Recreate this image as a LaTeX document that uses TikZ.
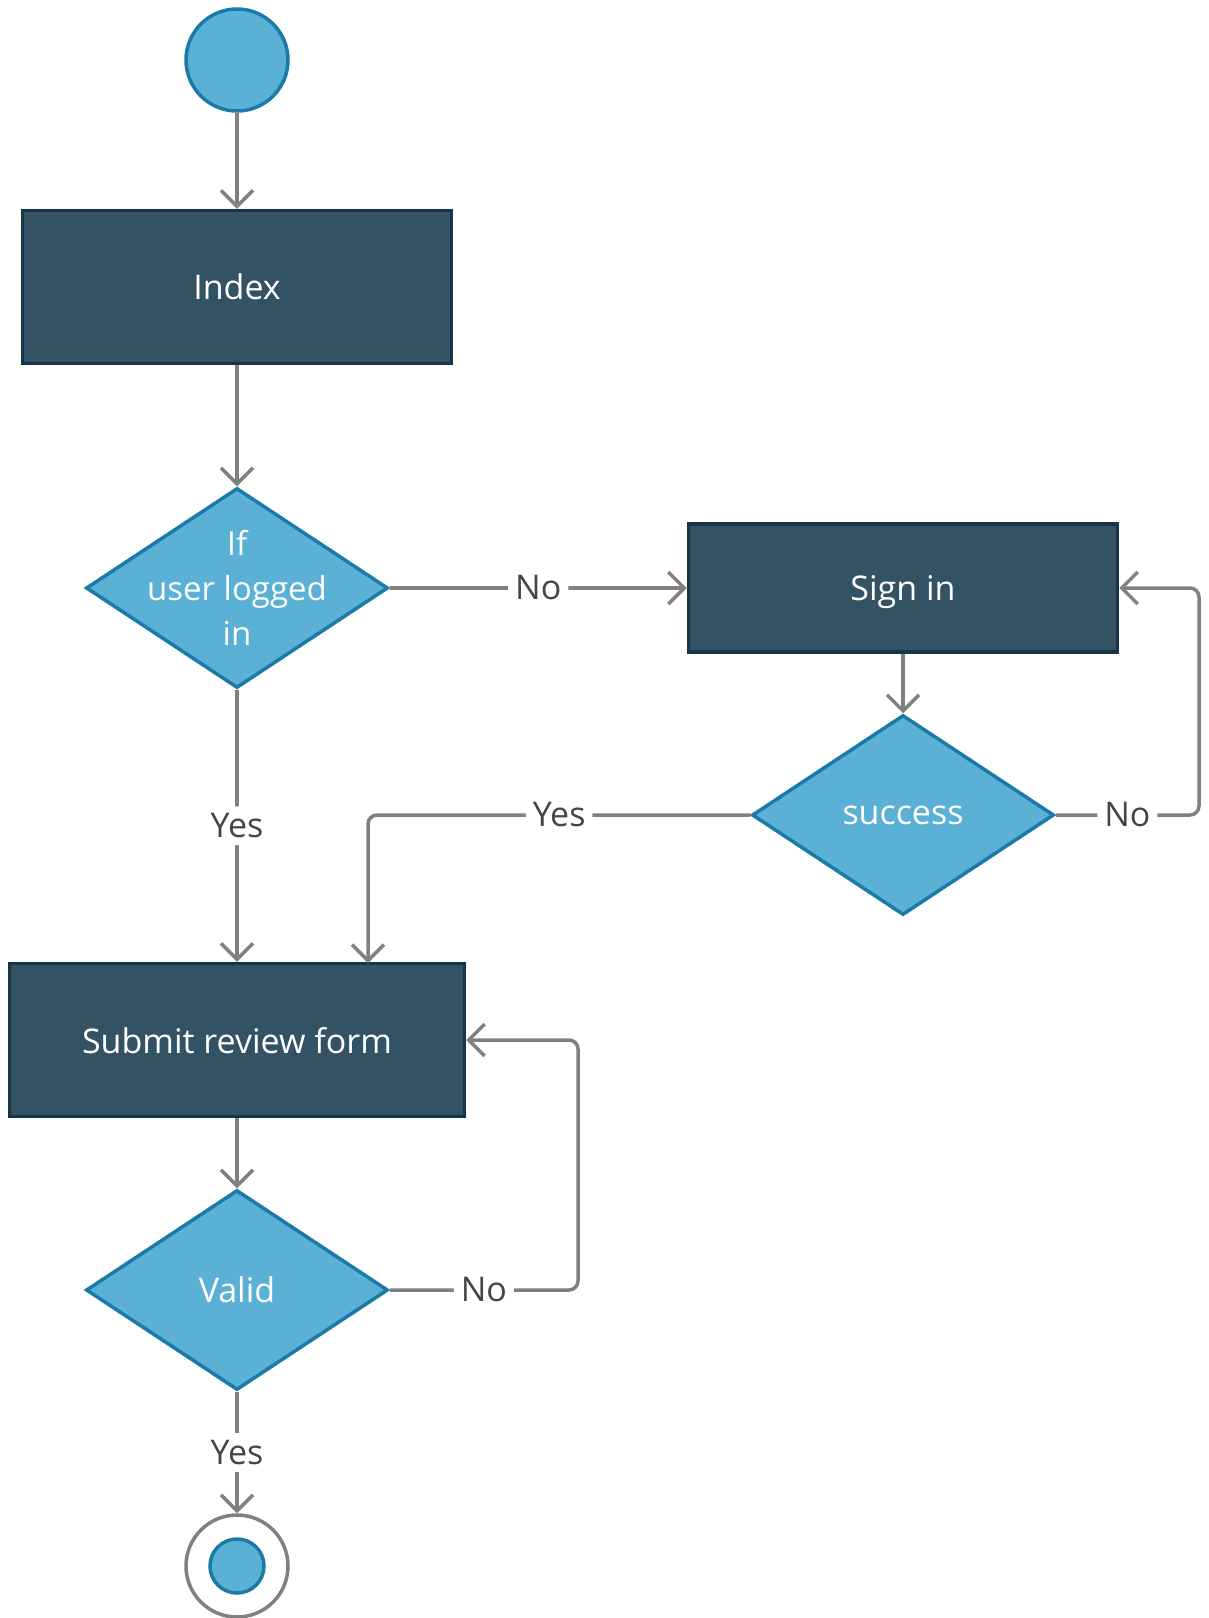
\documentclass[tikz,border=0pt]{standalone}
\usepackage{fontspec}
\setmainfont{Open Sans}
\usetikzlibrary{positioning,shapes.geometric,arrows.meta}
\definecolor{boxfill}{HTML}{335263}
\definecolor{boxline}{HTML}{173547}
\definecolor{dfill}{HTML}{5BB0D6}
\definecolor{dline}{HTML}{1A7AA8}
\definecolor{wire}{HTML}{808080}
\definecolor{lbltext}{HTML}{454545}
\begin{document}
\begin{tikzpicture}[x=1pt, y=-1pt,
    font=\fontsize{34}{40}\selectfont,
    act/.style = {draw=boxline, fill=boxfill, line width=3.5pt, text=white, minimum width=429pt, minimum height=153pt, inner sep=0pt, text depth=0pt},
    decide/.style = {draw=dline, fill=dfill, line width=3.5pt, diamond, text=white, minimum width=302pt, minimum height=200pt, inner sep=0pt, shape aspect=1.5},
    dot/.style = {draw=dline, fill=dfill, line width=3.5pt, circle, minimum size=#1, inner sep=0pt},
    lbl/.style = {fill=white, text=lbltext, inner sep=7pt},
    flow/.style = {draw=wire, line width=3.5pt, -{Straight Barb[length=16pt, width=32pt]}, rounded corners=9pt}]
    \useasboundingbox (0,0) rectangle (1209,1618);
    \node[dot=102pt] (start) at (237,60) {};
    \node[act] (index) [below of=start, node distance=227pt] {Index};
    \node[decide, label={[text=white, align=center, font=\fontsize{33}{45}\selectfont]center:If\\user logged\\in}] (logged) [below of=index, node distance=301pt] {};
    \node[act, minimum height=128pt] (signin) [right of=logged, node distance=666pt] {Sign in};
    \node[decide] (success) [below of=signin, node distance=227pt] {success};
    \node[act, minimum width=455pt] (submit) [below of=logged, node distance=452pt] {Submit review form};
    \node[decide] (valid) [below of=submit, node distance=250pt] {Valid};
    \node[draw=wire, line width=3.5pt, circle, fill=white, minimum size=102pt] (stop) [below of=valid, node distance=276pt] {};
    \node[dot=54pt] (stopdot) at (stop) {};
    \coordinate (signloop) at (1199,588);
    \coordinate (formloop) at (578,1040);
    \coordinate (formtop) at (368,963);
    \draw[flow] (start) -- (index);
    \draw[flow] (index) -- (logged);
    \draw[flow] (logged.east) -- node[lbl] {No} (signin.west);
    \draw[flow] (logged.south) -- node[lbl] {Yes} (submit.north);
    \draw[flow] (signin) -- (success);
    \draw[flow] (success.west) -| node[lbl, pos=0.25] {Yes} (formtop);
    \draw[flow] (success.east) -| node[lbl, pos=0.25] {No} (signloop) -- (signin.east);
    \draw[flow] (submit) -- (valid);
    \draw[flow] (valid.east) -| node[lbl, pos=0.25] {No} (formloop) -- (submit.east);
    \draw[flow] (valid.south) -- node[lbl] {Yes} (stop.north);
\end{tikzpicture}
\end{document}
